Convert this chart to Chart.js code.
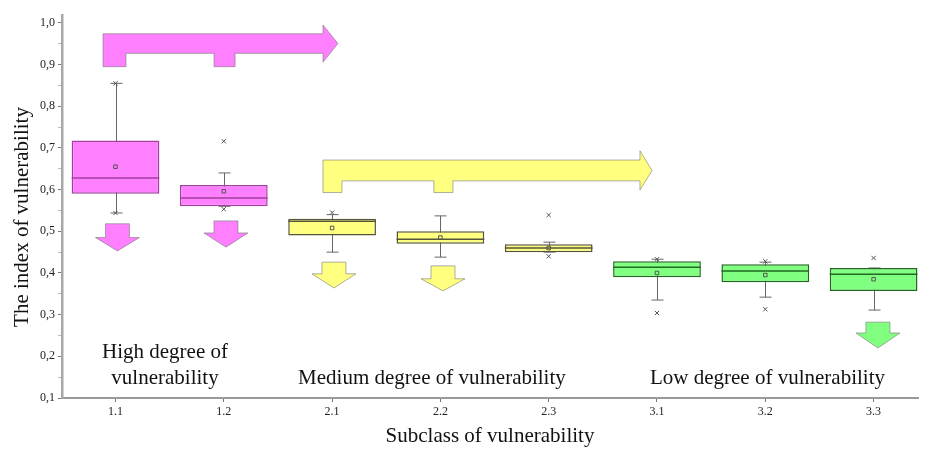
<!DOCTYPE html>
<html>
<head>
<meta charset="utf-8">
<script src="https://cdn.jsdelivr.net/npm/chart.js@4/dist/chart.umd.min.js"></script>
<style>
html,body{margin:0;padding:0;background:#fff;}
#wrap{width:925px;height:452px;position:relative;}
</style>
</head>
<body>
<div id="wrap"><canvas id="c" width="925" height="452"></canvas></div>
<script>
// ---- data ----
const categories = ['1.1','1.2','2.1','2.2','2.3','3.1','3.2','3.3'];
const q1        = [0.590, 0.560, 0.490, 0.470, 0.450, 0.390, 0.378, 0.357];
const q3        = [0.718, 0.611, 0.530, 0.500, 0.469, 0.428, 0.421, 0.412];
const medians   = [0.628, 0.580, 0.524, 0.481, 0.460, 0.414, 0.405, 0.397];
const means     = [0.655, 0.596, 0.508, 0.485, 0.460, 0.400, 0.395, 0.385];
const whiskerLo = [0.544, 0.560, 0.450, 0.438, 0.450, 0.335, 0.342, 0.311];
const whiskerHi = [0.855, 0.640, 0.540, 0.537, 0.474, 0.433, 0.426, 0.412];
const maxMarks  = [0.855, 0.716, 0.545, null, 0.539, 0.433, 0.428, 0.436];
const minMarks  = [0.544, 0.553, null, null, 0.440, 0.304, 0.313, null];
const yTickValues = [0.1,0.2,0.3,0.4,0.5,0.6,0.7,0.8,0.9,1.0];
const groupLabels = [
  {text:['High degree of','vulnerability'], x:0.457, y:[0.2104,0.148]},
  {text:['Medium degree of vulnerability'], x:2.922, y:[0.148]},
  {text:['Low degree of vulnerability'], x:6.02, y:[0.148]}
];

// ---- styles ----
const PINK='#FF80FF', YELLOW='#FFFF80', GREEN='#80FF80';
const groupOf = [0,0,1,1,1,2,2,2];
const fills = [PINK, YELLOW, GREEN];
const borders = ['#A040A0', '#55553a', '#1f6a1f'];
const boxFill = groupOf.map(g=>fills[g]);
const boxBorder = groupOf.map(g=>borders[g]);

// decorative arrows in data coordinates
const bracketArrows = [
  {x0:-0.115, leg1R:0.097, leg2L:0.91, leg2R:1.104, xHead:1.916, xTip:2.054,
   yTop:0.974, yBot:0.927, yLeg:0.895, yHeadTop:0.995, yHeadBot:0.906, fill:PINK},
  {x0:1.916, leg1R:2.091, leg2L:2.94, leg2R:3.116, xHead:4.843, xTip:4.954,
   yTop:0.671, yBot:0.621, yLeg:0.593, yHeadTop:0.693, yHeadBot:0.599, fill:YELLOW}
];
const downArrows = [
  {x:0.018, yTop:0.518, yHead:0.485, yTip:0.453, fill:PINK},
  {x:1.02,  yTop:0.525, yHead:0.496, yTip:0.462, fill:PINK},
  {x:2.017, yTop:0.426, yHead:0.398, yTip:0.364, fill:YELLOW},
  {x:3.024, yTop:0.417, yHead:0.386, yTip:0.357, fill:YELLOW},
  {x:7.04,  yTop:0.282, yHead:0.256, yTip:0.220, fill:GREEN}
];

const SERIF = "'Liberation Serif','Times New Roman',serif";

const boxPlugin = {
  id:'boxExtras',
  beforeDatasetsDraw(chart){
    const {ctx, scales:{x,y}} = chart;
    ctx.save();
    ctx.lineWidth = 1;
    ctx.strokeStyle = 'rgba(110,110,110,0.55)';
    bracketArrows.forEach(a=>{
      const X=v=>x.getPixelForValue(v), Y=v=>y.getPixelForValue(v);
      ctx.beginPath();
      ctx.moveTo(X(a.x0),Y(a.yLeg));
      ctx.lineTo(X(a.x0),Y(a.yTop));
      ctx.lineTo(X(a.xHead),Y(a.yTop));
      ctx.lineTo(X(a.xHead),Y(a.yHeadTop));
      ctx.lineTo(X(a.xTip),Y((a.yTop+a.yBot)/2));
      ctx.lineTo(X(a.xHead),Y(a.yHeadBot));
      ctx.lineTo(X(a.xHead),Y(a.yBot));
      ctx.lineTo(X(a.leg2R),Y(a.yBot));
      ctx.lineTo(X(a.leg2R),Y(a.yLeg));
      ctx.lineTo(X(a.leg2L),Y(a.yLeg));
      ctx.lineTo(X(a.leg2L),Y(a.yBot));
      ctx.lineTo(X(a.leg1R),Y(a.yBot));
      ctx.lineTo(X(a.leg1R),Y(a.yLeg));
      ctx.closePath();
      ctx.fillStyle=a.fill; ctx.fill(); ctx.stroke();
    });
    downArrows.forEach(a=>{
      const cx=x.getPixelForValue(a.x);
      const yt=y.getPixelForValue(a.yTop), yh=y.getPixelForValue(a.yHead), yp=y.getPixelForValue(a.yTip);
      const sw=12, hw=22;
      ctx.beginPath();
      ctx.moveTo(cx-sw,yt); ctx.lineTo(cx+sw,yt); ctx.lineTo(cx+sw,yh);
      ctx.lineTo(cx+hw,yh); ctx.lineTo(cx,yp); ctx.lineTo(cx-hw,yh);
      ctx.lineTo(cx-sw,yh); ctx.closePath();
      ctx.fillStyle=a.fill; ctx.fill(); ctx.stroke();
    });
    ctx.strokeStyle='#666'; ctx.lineWidth=1;
    categories.forEach((c,i)=>{
      const cx=Math.round(x.getPixelForValue(i))+0.5;
      const lo=y.getPixelForValue(whiskerLo[i]), hi=y.getPixelForValue(whiskerHi[i]);
      ctx.beginPath();
      ctx.moveTo(cx,lo); ctx.lineTo(cx,hi);
      ctx.moveTo(cx-6,lo); ctx.lineTo(cx+6,lo);
      ctx.moveTo(cx-6,hi); ctx.lineTo(cx+6,hi);
      ctx.stroke();
    });
    ctx.restore();
  },
  afterDatasetsDraw(chart){
    const {ctx, scales:{x,y}} = chart;
    const meta = chart.getDatasetMeta(0);
    ctx.save();
    ctx.lineWidth=1.5;
    meta.data.forEach((bar,i)=>{
      const py=y.getPixelForValue(medians[i]);
      ctx.strokeStyle=boxBorder[i];
      ctx.beginPath();
      ctx.moveTo(bar.x-bar.width/2,py); ctx.lineTo(bar.x+bar.width/2,py);
      ctx.stroke();
    });
    ctx.fillStyle='#111';
    ctx.font="21px "+SERIF;
    ctx.textAlign='center'; ctx.textBaseline='middle';
    groupLabels.forEach(g=>{
      g.text.forEach((t,k)=>{
        ctx.fillText(t, x.getPixelForValue(g.x), y.getPixelForValue(g.y[k]));
      });
    });
    ctx.restore();
  }
};

new Chart(document.getElementById('c'), {
  type:'bar',
  data:{
    datasets:[
      {
        type:'bar',
        data:categories.map((c,i)=>({x:i, y:[q1[i], q3[i]]})),
        backgroundColor:boxFill,
        borderColor:boxBorder,
        borderWidth:1.5,
        borderSkipped:false,
        categoryPercentage:1,
        barPercentage:0.81,
        order:2
      },
      {
        type:'scatter',
        data:categories.map((c,i)=>({x:i, y:means[i]})),
        pointStyle:'rect', pointRadius:2.5,
        borderColor:'#555', backgroundColor:'rgba(0,0,0,0)', borderWidth:1,
        order:1
      },
      {
        type:'scatter',
        data:categories.map((c,i)=>({x:i, y:maxMarks[i]})).filter(p=>p.y!==null),
        pointStyle:'crossRot', pointRadius:3,
        borderColor:'#555', borderWidth:1, order:1
      },
      {
        type:'scatter',
        data:categories.map((c,i)=>({x:i, y:minMarks[i]})).filter(p=>p.y!==null),
        pointStyle:'crossRot', pointRadius:3,
        borderColor:'#555', borderWidth:1, order:1
      }
    ]
  },
  options:{
    responsive:false,
    animation:false,
    layout:{padding:{top:15, right:7, left:0, bottom:0}},
    plugins:{legend:{display:false}, tooltip:{enabled:false}},
    scales:{
      x:{
        type:'linear',
        min:-0.494, max:7.41,
        offset:false,
        afterBuildTicks:(s)=>{ s.ticks = categories.map((c,i)=>({value:i})); },
        afterFit:(s)=>{ s.height = 54; },
        border:{color:'#9a9a9a', width:2},
        grid:{display:true, offset:false, drawOnChartArea:false, drawTicks:true, tickLength:4, tickColor:'#777'},
        ticks:{
          autoSkip:false, maxRotation:0, padding:3, color:'#222',
          font:{family:SERIF, size:12},
          callback:(v)=>categories[Math.round(v)]
        },
        title:{display:true, text:'Subclass of vulnerability', color:'#111',
               font:{family:SERIF, size:21}, padding:{top:0,bottom:3}}
      },
      y:{
        min:0.1, max:1.019,
        afterBuildTicks:(s)=>{
          const t=[];
          yTickValues.forEach((v,k)=>{
            t.push({value:v});
            if(k<yTickValues.length-1) t.push({value:(v+yTickValues[k+1])/2, minor:true});
          });
          s.ticks=t;
        },
        afterFit:(s)=>{ s.width = 62; },
        border:{color:'#a8a8a8', width:2.5},
        grid:{display:true, drawOnChartArea:false, drawTicks:true,
              tickLength:4,
              tickColor:(c)=> (c.tick && c.tick.minor) ? '#bbb' : '#777'},
        ticks:{
          autoSkip:false, padding:3, color:'#222',
          font:{family:SERIF, size:12},
          callback:(v,idx,ticks)=> ticks[idx].minor ? '' : v.toFixed(1).replace('.',',')
        },
        title:{display:true, text:'The index of vulnerability    ', color:'#111',
               font:{family:SERIF, size:21}, padding:{top:10,bottom:0}}
      }
    }
  },
  plugins:[boxPlugin]
});
</script>
</body>
</html>
